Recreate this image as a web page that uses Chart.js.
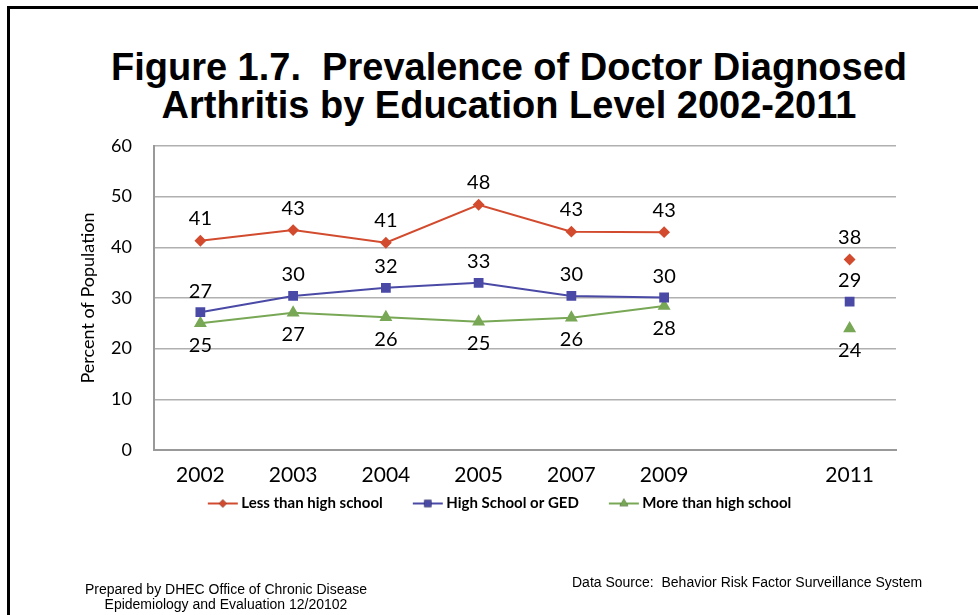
<!DOCTYPE html>
<html>
<head>
<meta charset="utf-8">
<script src="https://cdn.jsdelivr.net/npm/chart.js@4.4.0/dist/chart.umd.min.js"></script>
<style>
  html, body { margin: 0; padding: 0; background: #fff; }
  #page { position: relative; width: 978px; height: 615px; overflow: hidden; }
  #frame { position: absolute; left: 7px; top: 6px; width: 980px; height: 620px;
           border-top: 3px solid #000; border-left: 3px solid #000; }
  #title { position: absolute; left: 0; width: 1018px; top: 48px; text-align: center;
           font: bold 38px "Liberation Sans", Arial, sans-serif; line-height: 38px;
           white-space: pre; color: #000; }
  #prep { position: absolute; left: 46px; width: 360px; top: 582px; text-align: center;
          font: 14px "Liberation Sans", Arial, sans-serif; line-height: 15px; color: #000; }
  #src { position: absolute; left: 572px; top: 574px;
         font: 14px "Liberation Sans", Arial, sans-serif; color: #000; white-space: pre; }
  canvas { position: absolute; left: 0; top: 0; }
</style>
</head>
<body>
<div id="page">
  <div id="frame"></div>
  <div id="title">Figure 1.7.  Prevalence of Doctor Diagnosed
Arthritis by Education Level 2002-2011</div>
  <canvas id="arthritisChart" width="978" height="615"></canvas>
  <div id="prep">Prepared by DHEC Office of Chronic Disease<br>Epidemiology and Evaluation 12/20102</div>
  <div id="src">Data Source:  Behavior Risk Factor Surveillance System</div>
</div>
<script>
// años (el hueco antes de 2011 es una categoría vacía)
const years = ['2002', '2003', '2004', '2005', '2007', '2009', '', '2011'];
const lessThanHS = [41.3, 43.4, 40.9, 48.4, 43.1, 43.0, null, 37.6];
const highSchoolGED = [27.2, 30.4, 32.0, 33.0, 30.4, 30.1, null, 29.3];
const moreThanHS = [25.0, 27.1, 26.2, 25.3, 26.1, 28.4, null, 24.0];
const yTicks = [0, 10, 20, 30, 40, 50, 60];

const red = '#D24B2E';
const blue = '#4A4AA6';
const green = '#78A855';

// icono de leyenda: línea con el marcador, pegada a la derecha del hueco
function legendIcon(color, style, r) {
    const c = document.createElement('canvas');
    c.width = 64;
    c.height = 12;
    const ctx = c.getContext('2d');
    ctx.strokeStyle = color;
    ctx.lineWidth = 2;
    ctx.beginPath();
    ctx.moveTo(32, 6);
    ctx.lineTo(62, 6);
    ctx.stroke();
    Chart.helpers.drawPoint(ctx, { pointStyle: style, radius: r, rotation: 0, borderWidth: 0 }, 47, 6);
    ctx.fillStyle = color;
    ctx.fill();
    return c;
}

// etiquetas de valores encima / debajo de cada punto
const valueLabels = {
    id: 'valueLabels',
    afterDatasetsDraw(chart) {
        const ctx = chart.ctx;
        ctx.save();
        ctx.font = '20px Lato, sans-serif';
        ctx.fillStyle = '#000';
        ctx.textAlign = 'center';
        ctx.textBaseline = 'middle';
        chart.data.datasets.forEach((ds, i) => {
            const meta = chart.getDatasetMeta(i);
            meta.data.forEach((pt, j) => {
                const v = ds.data[j];
                if (v === null) return;
                ctx.fillText(Math.round(v), pt.x, pt.y + ds.labelOffset);
            });
        });
        ctx.restore();
    }
};

const ctx = document.getElementById('arthritisChart').getContext('2d');
const icons = [legendIcon(red, 'rectRot', 4), legendIcon(blue, 'rect', 5), legendIcon(green, 'triangle', 5)];

const arthritisChart = new Chart(ctx, {
    type: 'line',
    data: {
        labels: years,
        datasets: [{
            label: 'Less than high school',
            data: lessThanHS,
            borderColor: red,
            backgroundColor: red,
            pointStyle: 'rectRot',
            pointRadius: 4.5,
            borderWidth: 2,
            labelOffset: -22
        }, {
            label: 'High School or GED',
            data: highSchoolGED,
            borderColor: blue,
            backgroundColor: blue,
            pointStyle: 'rect',
            pointRadius: 5.5,
            borderWidth: 2,
            labelOffset: -21
        }, {
            label: 'More than high school',
            data: moreThanHS,
            borderColor: green,
            backgroundColor: green,
            pointStyle: 'triangle',
            pointRadius: 5.5,
            borderWidth: 2,
            labelOffset: 22
        }]
    },
    options: {
        responsive: false,
        animation: false,
        spanGaps: false,
        layout: {
            padding: { left: 77, right: 82, top: 146, bottom: 94 }
        },
        scales: {
            x: {
                offset: true,
                grid: { display: false, drawTicks: false },
                border: { display: true, color: '#999', width: 2 },
                ticks: {
                    color: '#000',
                    font: { family: 'Lato, sans-serif', size: 21 },
                    padding: 13,
                    maxRotation: 0,
                    autoSkip: false
                },
                afterFit: (scale) => { scale.height = 42; }
            },
            y: {
                min: 0,
                max: 60,
                afterBuildTicks: (scale) => { scale.ticks = yTicks.map(v => ({ value: v })); },
                grid: { color: '#b0b0b0', lineWidth: 1.5, drawTicks: false },
                border: { display: true, color: '#999', width: 2 },
                ticks: {
                    color: '#000',
                    font: { family: 'Lato, sans-serif', size: 18 },
                    padding: 22
                },
                title: {
                    display: true,
                    text: 'Percent of Population',
                    color: '#000',
                    font: { family: 'Lato, sans-serif', size: 18 },
                    padding: 0
                },
                afterFit: (scale) => { scale.width = 77; }
            }
        },
        plugins: {
            title: { display: false },
            tooltip: { enabled: false },
            legend: {
                position: 'bottom',
                labels: {
                    usePointStyle: true,
                    pointStyleWidth: 52,
                    boxHeight: 12,
                    padding: 4,
                    color: '#000',
                    font: { family: 'Lato, sans-serif', size: 15, weight: 'bold' },
                    generateLabels: (chart) => chart.data.datasets.map((ds, i) => ({
                        text: ds.label,
                        pointStyle: icons[i],
                        fillStyle: ds.borderColor,
                        strokeStyle: ds.borderColor,
                        lineWidth: 0,
                        hidden: false,
                        datasetIndex: i,
                        fontColor: '#000'
                    }))
                }
            }
        }
    },
    plugins: [valueLabels]
});
</script>
</body>
</html>
